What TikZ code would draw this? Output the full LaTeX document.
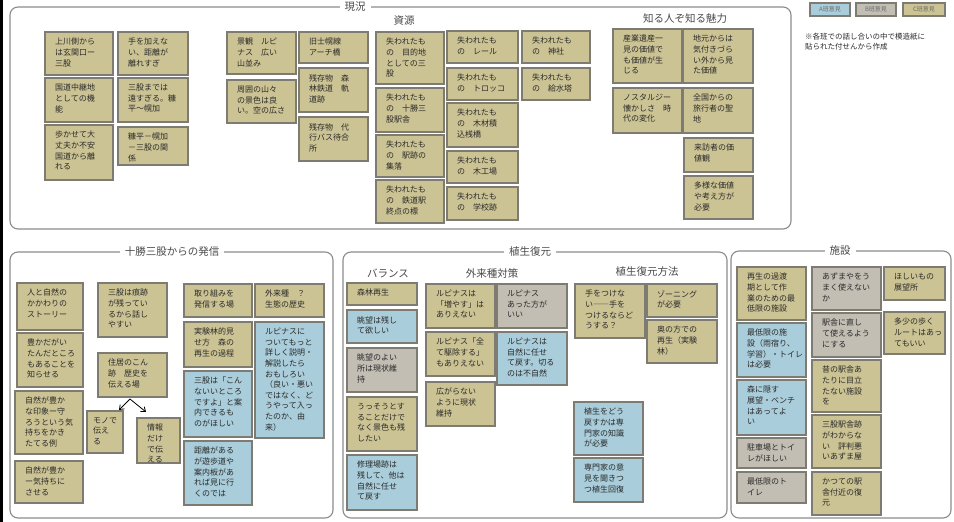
\documentclass[tikz,border=0pt]{standalone}
\usepackage{fontspec}
\newfontfamily\jp{Noto Sans CJK JP}
\usetikzlibrary{arrows.meta}
\definecolor{cC}{HTML}{CCC394}
\definecolor{cA}{HTML}{A9CDDA}
\definecolor{cB}{HTML}{C2BEB4}
\definecolor{bord}{HTML}{7E7C72}
\definecolor{panelc}{HTML}{8C8C8C}
\definecolor{ink}{HTML}{2A2A2A}
\tikzset{
 box/.style={draw=bord, line width=1.2pt, inner sep=0pt, outer sep=0pt},
 stC/.style={box, fill=cC},
 stA/.style={box, fill=cA},
 stB/.style={box, fill=cB},
 ntxt/.style={inner sep=0pt, align=left, font=\jp\fontsize{8}{10.6}\selectfont, text=ink},
 ttl/.style={fill=white, inner xsep=5pt, inner ysep=1pt, font=\jp\fontsize{10.5}{12}\selectfont, text=ink!85},
 subh/.style={inner sep=0pt, font=\jp\fontsize{10.5}{12}\selectfont, text=ink!85},
 pnl/.style={draw=panelc, line width=1.1pt, rounded corners=8pt},
 arr/.style={-{Straight Barb[length=4pt,width=6pt]}, line width=0.8pt, black},
 leg/.style={anchor=north west, minimum width=40pt, minimum height=13pt, font=\jp\fontsize{6}{7}\selectfont, text=ink!70},
}
\newcommand\nt[8][10]{%
 \node[#3, anchor=north west, minimum width={#6pt-#4pt}, minimum height={#7pt-#5pt}] (#2) at (#4,#5) {};
 \node[ntxt, anchor=north west] (#2t) at ([xshift=#1pt,yshift=-6pt]#2.north west) {#8};}
\begin{document}
\begin{tikzpicture}[x=1pt,y=-1pt]
\useasboundingbox (0,0) rectangle (954,522);
\fill[white] (0,0) rectangle (954,522);
\fill[black] (0,0) rectangle (3,522);
% panels
\draw[pnl] (10,7) rectangle (791,229);
\draw[pnl] (10,252) rectangle (333,518);
\draw[pnl] (343,252) rectangle (727,518);
\draw[pnl] (731,251) rectangle (951,518);
\node[ttl] (t0) at (355,7) {現況};
\node[ttl] (t1) at (172,252) {十勝三股からの発信};
\node[ttl] (t2) at (530,252) {植生復元};
\node[ttl] (t3) at (840,251) {施設};
\node[subh] (h1) at (404,21) {資源};
\node[subh] (h2) at (685,19) {知る人ぞ知る魅力};
\node[subh] (h3) at (388,273) {バランス};
\node[subh] (h4) at (492,273) {外来種対策};
\node[subh] (h5) at (647,272) {植生復元方法};
% legend
\node[stA, leg] (la) at (810,3) {A班意見};
\node[stB, leg] (lb) at (856,3) {B班意見};
\node[stC, leg, minimum width=42pt] (lc) at (903,3) {C班意見};
\node[anchor=north west, align=left, inner sep=0pt, font=\jp\fontsize{7.5}{10}\selectfont, text=ink] (lnote) at (805,33) {※各班での話し合いの中で模造紙に\\貼られた付せんから作成};
% 現況 group 1
\nt{n1}{stC}{45}{32}{113}{75}{上川側から\\は玄関口ー\\三股}
\nt{n2}{stC}{118}{32}{188}{75}{手を加えな\\い、距離が\\離れすぎ}
\nt{n3}{stC}{45}{78}{113}{122}{国道中継地\\としての機\\能}
\nt{n4}{stC}{118}{78}{188}{122}{三股までは\\遠すぎる。糠\\平～幌加}
\nt{n5}{stC}{45}{125}{113}{180}{歩かせて大\\丈夫か不安\\国道から離\\れる}
\nt{n6}{stC}{118}{127}{188}{165}{糠平－幌加\\－三股の関\\係}
% group 2
\nt{n7}{stC}{227}{32}{296}{74}{景観　ルピ\\ナス　広い\\山並み}
\nt{n8}{stC}{227}{80}{296}{123}{周囲の山々\\の景色は良\\い。空の広さ}
\nt{n9}{stC}{299}{32}{368}{63}{旧士幌線\\アーチ橋}
\nt{n10}{stC}{299}{68}{368}{112}{残存物　森\\林鉄道　軌\\道跡}
\nt{n11}{stC}{299}{117}{368}{161}{残存物　代\\行バス待合\\所}
% 資源
\nt{n12}{stC}{376}{32}{444}{84}{失われたも\\の　目的地\\としての三\\股}
\nt{n13}{stC}{376}{88}{444}{132}{失われたも\\の　十勝三\\股駅舎}
\nt{n14}{stC}{376}{135}{444}{177}{失われたも\\の　駅跡の\\集落}
\nt{n15}{stC}{376}{180}{444}{223}{失われたも\\の　鉄道駅\\終点の標}
\nt{n16}{stC}{447}{31}{518}{63}{失われたも\\の　レール}
\nt{n17}{stC}{447}{68}{518}{100}{失われたも\\の　トロッコ}
\nt{n18}{stC}{447}{103}{518}{147}{失われたも\\の　木材積\\込桟橋}
\nt{n19}{stC}{447}{151}{518}{183}{失われたも\\の　木工場}
\nt{n20}{stC}{447}{187}{518}{220}{失われたも\\の　学校跡}
\nt{n21}{stC}{522}{31}{590}{63}{失われたも\\の　神社}
\nt{n22}{stC}{522}{68}{590}{100}{失われたも\\の　給水塔}
% 知る人ぞ知る魅力
\nt{n23}{stC}{613}{29}{682}{83}{産業遺産一\\見の価値で\\も価値が生\\じる}
\nt{n24}{stC}{683}{29}{753}{83}{地元からは\\気付きづら\\い外から見\\た価値}
\nt{n25}{stC}{613}{88}{682}{133}{ノスタルジー\\懐かしさ　時\\代の変化}
\nt{n26}{stC}{683}{88}{753}{133}{全国からの\\旅行者の聖\\地}
\nt{n27}{stC}{684}{138}{753}{172}{来訪者の価\\値観}
\nt{n28}{stC}{684}{176}{753}{219}{多様な価値\\や考え方が\\必要}
% 十勝三股からの発信
\nt{m1}{stC}{17}{283}{83}{330}{人と自然の\\かかわりの\\ストーリー}
\nt{m2}{stC}{17}{333}{83}{387}{豊かだがい\\たんだところ\\もあることを\\知らせる}
\nt{m3}{stC}{15}{391}{83}{454}{自然が豊か\\な印象ー守\\ろうという気\\持ちをかき\\たてる例}
\nt{m4}{stC}{15}{461}{83}{503}{自然が豊か\\ー気持ちに\\させる}
\nt{m5}{stC}{98}{283}{167}{337}{三股は痕跡\\が残ってい\\るから話し\\やすい}
\nt{m6}{stC}{98}{353}{167}{397}{住居のこん\\跡　歴史を\\伝える場}
\nt[6]{m7}{stC}{87}{411}{123}{453}{モノで\\伝え\\る}
\nt{m8}{stC}{137}{418}{180}{463}{情報\\だけ\\で伝\\える}
\nt{m9}{stC}{184}{284}{252}{317}{取り組みを\\発信する場}
\nt{m10}{stC}{255}{284}{324}{317}{外来種　？\\生態の歴史}
\nt{m11}{stC}{184}{322}{252}{367}{実験林的見\\せ方　森の\\再生の過程}
\nt{m12}{stA}{184}{371}{252}{437}{三股は「こん\\ないいところ\\ですよ」と案\\内できるも\\のがほしい}
\nt{m13}{stA}{184}{441}{252}{505}{距離がある\\が遊歩道や\\案内板があ\\れば見に行\\くのでは}
\nt{m14}{stA}{255}{322}{324}{438}{ルピナスに\\ついてもっと\\詳しく説明・\\解説したら\\おもしろい\\（良い・悪い\\ではなく、ど\\うやって入っ\\たのか、由\\来）}
\coordinate (fork) at (130,399);
\draw[arr] (fork) -- ([xshift=-4pt,yshift=1pt]m7.north east);
\draw[arr] (fork) -- ([xshift=9pt,yshift=6pt]m8.north west);
% 植生復元
\nt{p1}{stC}{347}{283}{417}{305}{森林再生}
\nt{p2}{stA}{347}{310}{417}{343}{眺望は残し\\て欲しい}
\nt{p3}{stB}{347}{348}{417}{392}{眺望のよい\\所は現状維\\持}
\nt{p4}{stC}{347}{397}{417}{451}{うっそうとす\\ることだけで\\なく景色も残\\したい}
\nt{p5}{stA}{347}{455}{417}{510}{修理場跡は\\残して、他は\\自然に任せ\\て戻す}
\nt{p6}{stC}{426}{284}{495}{328}{ルピナスは\\「増やす」は\\ありえない}
\nt{p7}{stC}{426}{332}{495}{376}{ルピナス「全\\て駆除する」\\もありえない}
\nt{p8}{stC}{426}{382}{495}{426}{広がらない\\ように現状\\維持}
\nt{p9}{stB}{497}{284}{567}{328}{ルピナス\\あった方が\\いい}
\nt{p10}{stA}{497}{332}{567}{385}{ルピナスは\\自然に任せ\\て戻す。切る\\のは不自然}
\nt{p11}{stC}{575}{284}{645}{338}{手をつけな\\い――手を\\つけるならど\\うする？}
\nt{p12}{stC}{647}{284}{717}{317}{ゾーニング\\が必要}
\nt{p13}{stC}{647}{320}{717}{363}{奥の方での\\再生（実験\\林）}
\nt{p14}{stA}{574}{402}{643}{455}{植生をどう\\戻すかは専\\門家の知識\\が必要}
\nt{p15}{stA}{574}{458}{643}{502}{専門家の意\\見を聞きつ\\つ植生回復}
% 施設
\nt{q1}{stC}{737}{267}{806}{320}{再生の過渡\\期として作\\業のための最\\低限の施設}
\nt{q2}{stA}{737}{323}{806}{377}{最低限の施\\設（雨宿り、\\学習）・トイレ\\は必要}
\nt{q3}{stA}{737}{380}{806}{435}{森に隠す\\展望・ベンチ\\はあってよ\\い}
\nt{q4}{stB}{737}{438}{806}{468}{駐車場とトイ\\レがほしい}
\nt{q5}{stB}{737}{472}{806}{503}{最低限のト\\イレ}
\nt{q6}{stB}{812}{267}{881}{310}{あずまやをう\\まく使えない\\か}
\nt{q7}{stB}{812}{313}{881}{357}{駅舎に直し\\て使えるよう\\にする}
\nt{q8}{stC}{812}{360}{881}{412}{昔の駅舎あ\\たりに目立\\たない施設\\を}
\nt{q9}{stC}{812}{415}{881}{468}{三股駅舎跡\\がわからな\\い　評判悪\\いあずま屋}
\nt{q10}{stC}{812}{472}{881}{515}{かつての駅\\舎付近の復\\元}
\nt{q11}{stC}{884}{267}{945}{300}{ほしいもの\\展望所}
\nt{q12}{stC}{884}{312}{945}{354}{多少の歩く\\ルートはあっ\\てもいい}
\end{tikzpicture}
\end{document}
